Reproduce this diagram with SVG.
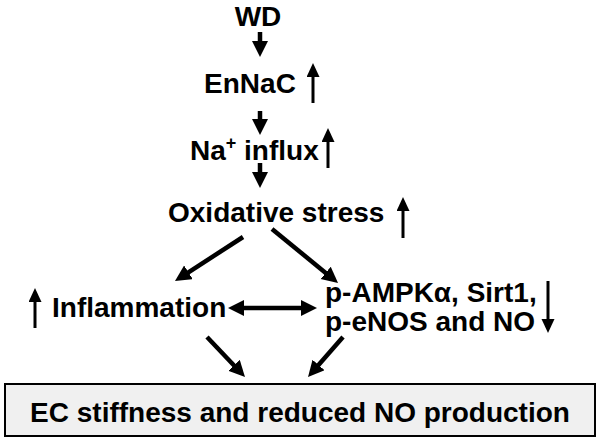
<svg xmlns="http://www.w3.org/2000/svg" width="600" height="441" viewBox="0 0 600 441">
<style>
text{font-family:"Liberation Sans",Arial,sans-serif;font-weight:bold;font-size:28px;fill:#000}
.c{stroke:#000;stroke-width:4.5;fill:none;marker-end:url(#ah)}
.i{stroke:#000;stroke-width:3;fill:none;marker-end:url(#ih)}
</style>
<defs>
<marker id="ah" markerUnits="userSpaceOnUse" markerWidth="18" markerHeight="18" refX="6" refY="8" orient="auto-start-reverse"><path d="M0,0 L16,8 L0,16 z" fill="#000"/></marker>
<marker id="ih" markerUnits="userSpaceOnUse" markerWidth="16" markerHeight="14" refX="5" refY="6.5" orient="auto"><path d="M0,0 L14,6.5 L0,13 z" fill="#000"/></marker>
</defs>
<rect width="600" height="441" fill="#fff"/>
<g id="wd"><text x="258" y="26" text-anchor="middle">WD</text></g>
<g id="ennac"><text x="250" y="93" text-anchor="middle">EnNaC</text></g>
<g id="na"><text x="190" y="160">Na<tspan font-size="18" dy="-11">+</tspan><tspan dy="11"> influx</tspan></text></g>
<g id="ox"><text x="168" y="222">Oxidative stress</text></g>
<g id="inflam"><text x="52" y="317">Inflammation</text></g>
<g id="ampk"><text x="325" y="302">p-AMPKα, Sirt1,</text><text x="325" y="331">p-eNOS and NO</text></g>
<g id="ec"><rect x="5" y="384" width="590" height="52" fill="#f0f0f0" stroke="#000" stroke-width="2"/><text x="300" y="422" text-anchor="middle">EC stiffness and reduced NO production</text></g>
<g id="connectors">
<line class="c" x1="260" y1="32" x2="260" y2="47"/>
<line class="c" x1="260" y1="111" x2="260" y2="125"/>
<line class="c" x1="260" y1="163" x2="260" y2="178"/>
<line class="c" x1="243" y1="237" x2="183.4" y2="275.6"/>
<line class="c" x1="272" y1="229" x2="330.3" y2="276.7"/>
<line class="c" x1="238" y1="308" x2="307" y2="308" marker-start="url(#ah)"/>
<line class="c" x1="207" y1="337" x2="238.1" y2="369.7"/>
<line class="c" x1="343" y1="337" x2="314.6" y2="369.5"/>
</g>
<g id="indicators">
<line class="i" x1="313" y1="103" x2="313" y2="72"/>
<line class="i" x1="328" y1="168" x2="328" y2="137"/>
<line class="i" x1="403" y1="238" x2="403" y2="206"/>
<line class="i" x1="35" y1="328" x2="35" y2="297"/>
<line class="i" x1="548" y1="281" x2="548" y2="324"/>
</g>
</svg>
